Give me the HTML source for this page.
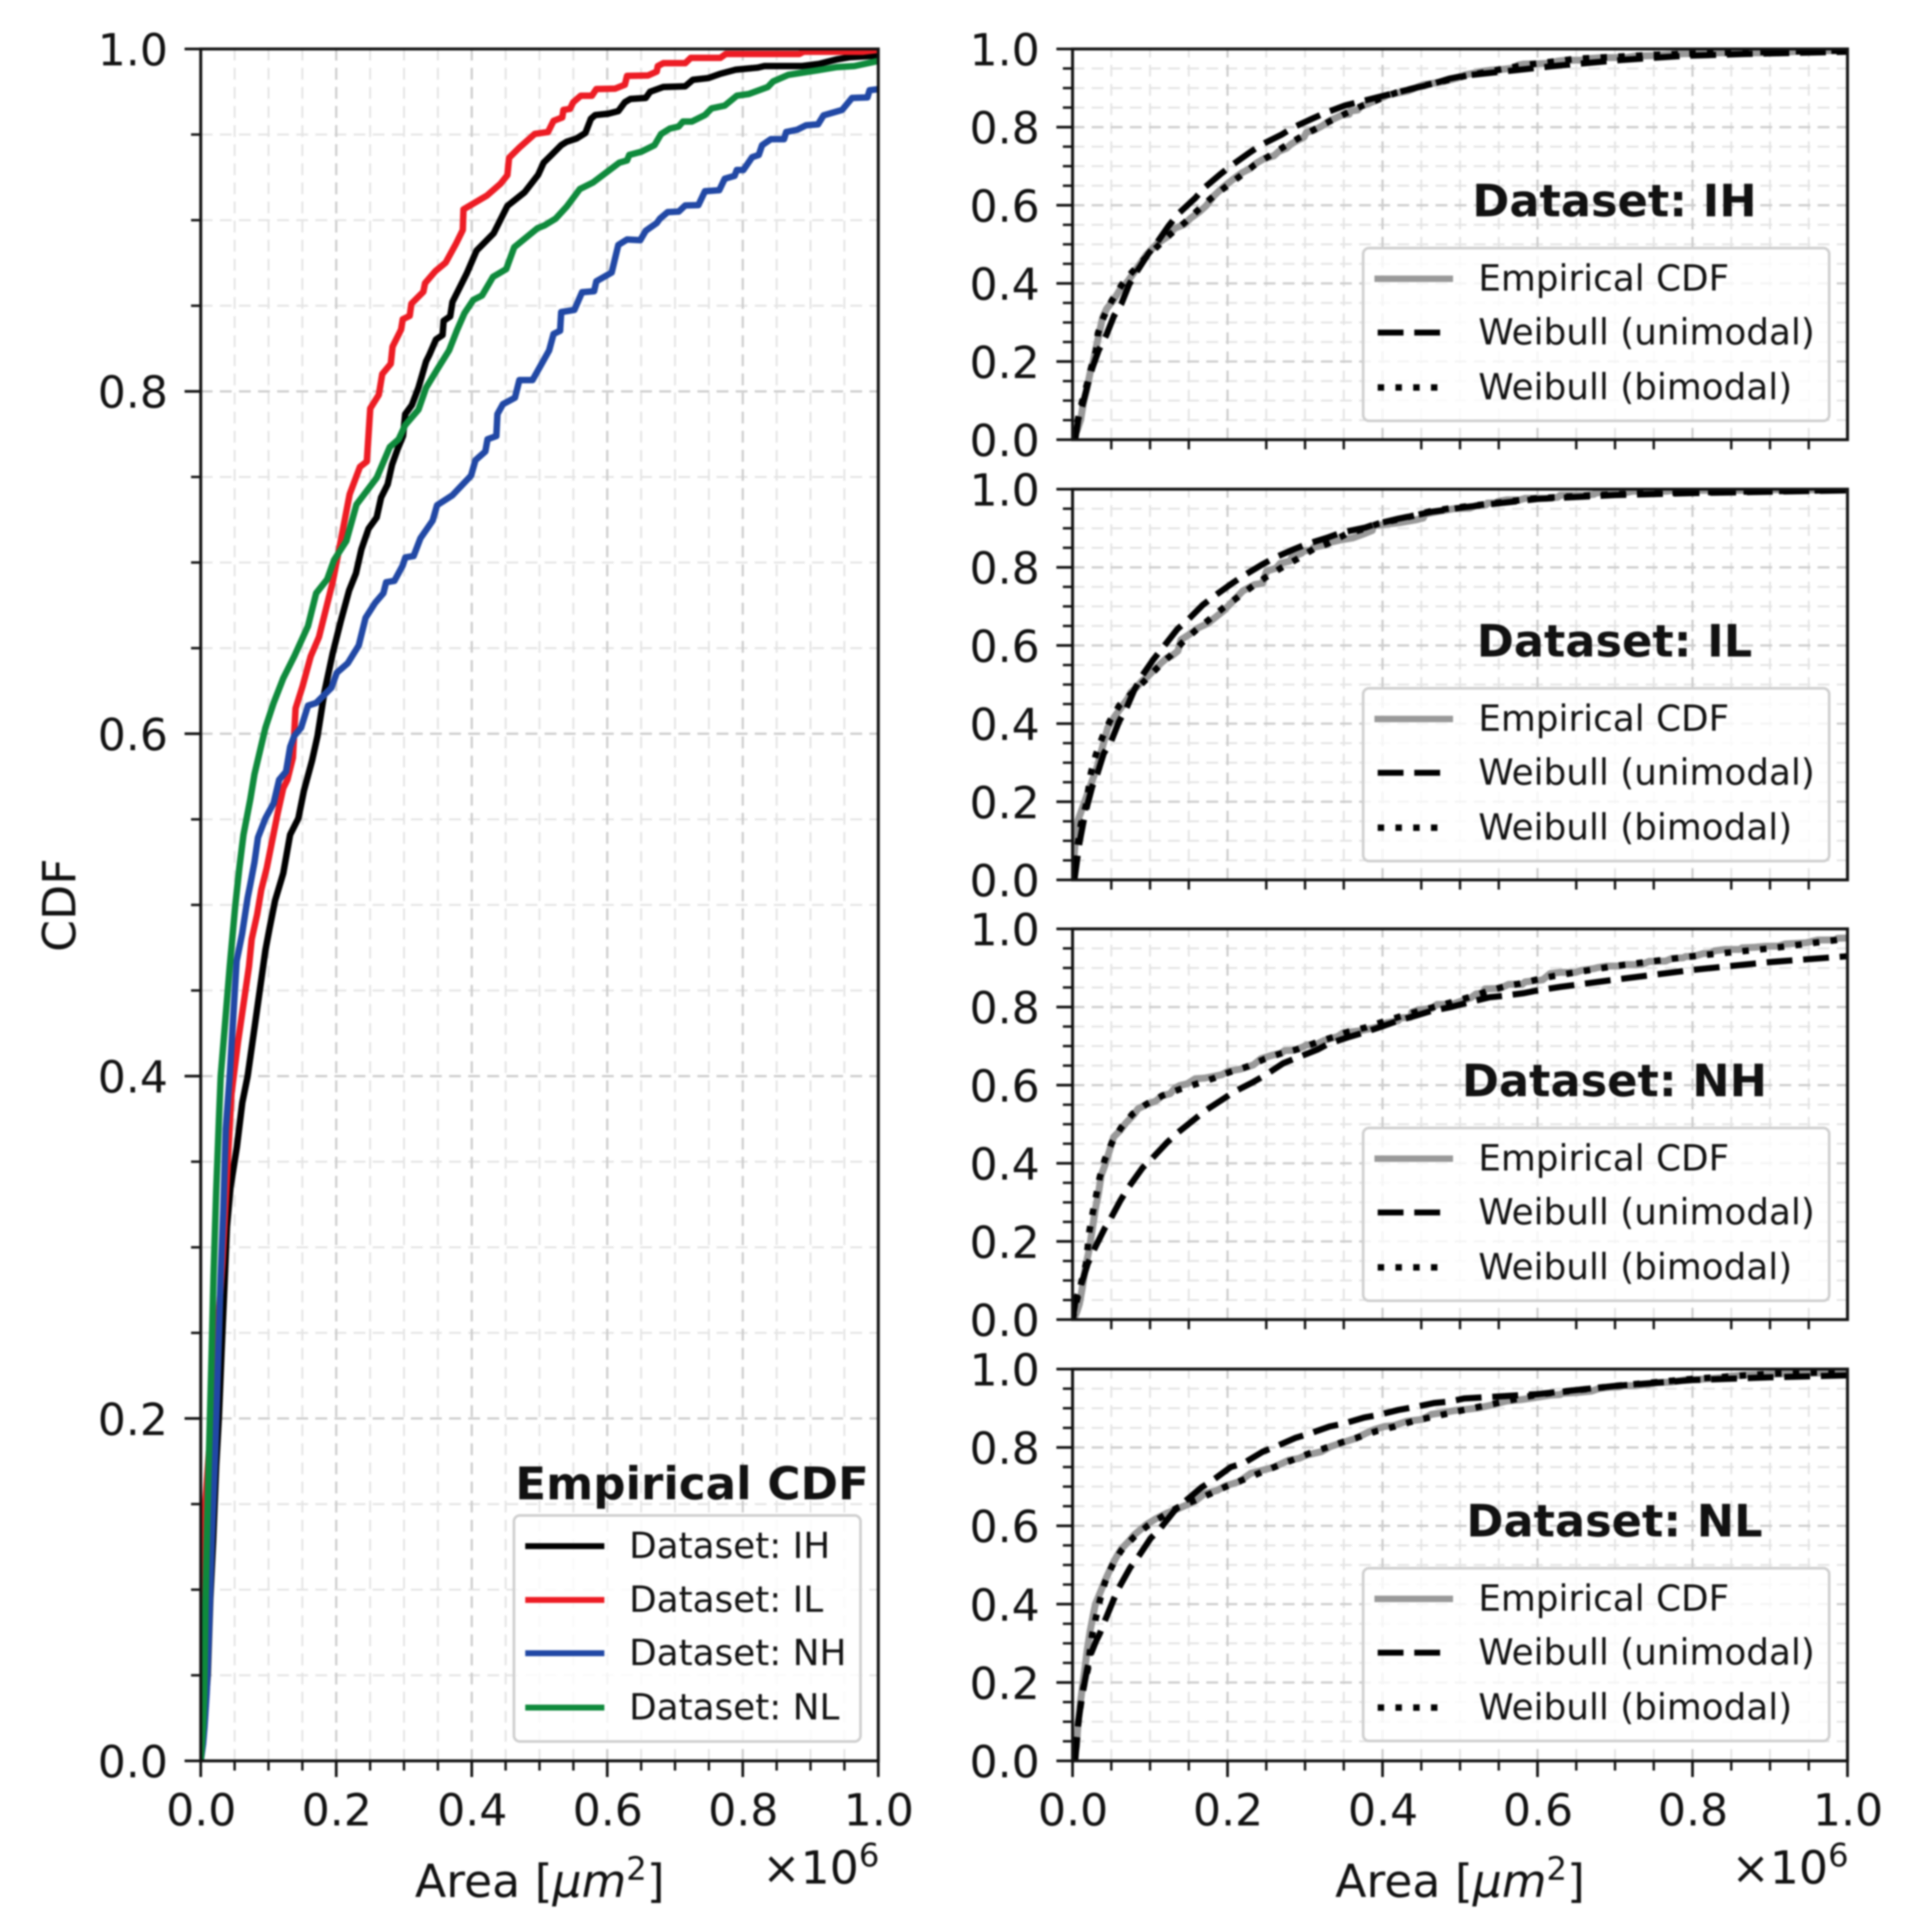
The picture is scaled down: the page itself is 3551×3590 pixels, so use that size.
<!DOCTYPE html>
<html lang="en">
<head>
<meta charset="utf-8">
<title>Empirical CDF and Weibull fits</title>
<style>
html,body{margin:0;padding:0;background:#fff;}
svg{display:block;filter:blur(1.5px);}
text{font-family:"DejaVu Sans","Liberation Sans",sans-serif;fill:#111;}
</style>
</head>
<body>
<svg id="figure" xmlns="http://www.w3.org/2000/svg" width="3551" height="3590" viewBox="0 0 3551 3590">
  <rect x="0" y="0" width="3551" height="3590" fill="#fff"/>
  <g id="plots"></g>

  <g>
    <text transform="translate(140 1682) rotate(-90)" text-anchor="middle" font-size="85">CDF</text>
    <text x="1003" y="3525" text-anchor="middle" font-size="85">Area [<tspan font-style="italic">µm</tspan><tspan dy="-32" font-size="60">2</tspan><tspan dy="32">]</tspan></text>
    <text x="1634" y="3500" text-anchor="end" font-size="85">×10<tspan dy="-32" font-size="60">6</tspan></text>
    <text x="1286" y="2786" text-anchor="middle" font-size="84" font-weight="bold">Empirical CDF</text>
  </g>
  <g>
    <rect x="955" y="2816" width="644" height="420" rx="11" fill="#fff" fill-opacity="0.8" stroke="#cfcfcf" stroke-width="5"/>
    <line x1="976" x2="1123" y1="2873" y2="2873" stroke="#000" stroke-width="11"/>
    <text x="1169" y="2895" font-size="66.5">Dataset: IH</text>
    <line x1="976" x2="1123" y1="2973" y2="2973" stroke="#ed1c24" stroke-width="11"/>
    <text x="1169" y="2995" font-size="66.5">Dataset: IL</text>
    <line x1="976" x2="1123" y1="3072" y2="3072" stroke="#2148a5" stroke-width="11"/>
    <text x="1169" y="3094" font-size="66.5">Dataset: NH</text>
    <line x1="976" x2="1123" y1="3173" y2="3173" stroke="#0f8a3c" stroke-width="11"/>
    <text x="1169" y="3195" font-size="66.5">Dataset: NL</text>
  </g>

  <g>
    <text x="3000" y="402" text-anchor="middle" font-size="83" font-weight="bold">Dataset: IH</text>
    <rect x="2533" y="461" width="866" height="321" rx="11" fill="#fff" fill-opacity="0.8" stroke="#cfcfcf" stroke-width="5"/>
    <line x1="2554" x2="2700" y1="518" y2="518" stroke="#999" stroke-width="12"/>
    <text x="2747" y="540" font-size="66.5">Empirical CDF</text>
    <line x1="2560" x2="2680" y1="618" y2="618" stroke="#000" stroke-width="11" stroke-dasharray="48 20"/>
    <text x="2747" y="640" font-size="66.5">Weibull (unimodal)</text>
    <line x1="2560" x2="2680" y1="720" y2="720" stroke="#000" stroke-width="12" stroke-dasharray="12 21"/>
    <text x="2747" y="742" font-size="66.5">Weibull (bimodal)</text>
  </g>
  <g transform="translate(0 818)">
    <text x="3000" y="402" text-anchor="middle" font-size="83" font-weight="bold">Dataset: IL</text>
    <rect x="2533" y="461" width="866" height="321" rx="11" fill="#fff" fill-opacity="0.8" stroke="#cfcfcf" stroke-width="5"/>
    <line x1="2554" x2="2700" y1="518" y2="518" stroke="#999" stroke-width="12"/>
    <text x="2747" y="540" font-size="66.5">Empirical CDF</text>
    <line x1="2560" x2="2680" y1="618" y2="618" stroke="#000" stroke-width="11" stroke-dasharray="48 20"/>
    <text x="2747" y="640" font-size="66.5">Weibull (unimodal)</text>
    <line x1="2560" x2="2680" y1="720" y2="720" stroke="#000" stroke-width="12" stroke-dasharray="12 21"/>
    <text x="2747" y="742" font-size="66.5">Weibull (bimodal)</text>
  </g>
  <g transform="translate(0 1635)">
    <text x="3000" y="402" text-anchor="middle" font-size="83" font-weight="bold">Dataset: NH</text>
    <rect x="2533" y="461" width="866" height="321" rx="11" fill="#fff" fill-opacity="0.8" stroke="#cfcfcf" stroke-width="5"/>
    <line x1="2554" x2="2700" y1="518" y2="518" stroke="#999" stroke-width="12"/>
    <text x="2747" y="540" font-size="66.5">Empirical CDF</text>
    <line x1="2560" x2="2680" y1="618" y2="618" stroke="#000" stroke-width="11" stroke-dasharray="48 20"/>
    <text x="2747" y="640" font-size="66.5">Weibull (unimodal)</text>
    <line x1="2560" x2="2680" y1="720" y2="720" stroke="#000" stroke-width="12" stroke-dasharray="12 21"/>
    <text x="2747" y="742" font-size="66.5">Weibull (bimodal)</text>
  </g>
  <g transform="translate(0 2453)">
    <text x="3000" y="402" text-anchor="middle" font-size="83" font-weight="bold">Dataset: NL</text>
    <rect x="2533" y="461" width="866" height="321" rx="11" fill="#fff" fill-opacity="0.8" stroke="#cfcfcf" stroke-width="5"/>
    <line x1="2554" x2="2700" y1="518" y2="518" stroke="#999" stroke-width="12"/>
    <text x="2747" y="540" font-size="66.5">Empirical CDF</text>
    <line x1="2560" x2="2680" y1="618" y2="618" stroke="#000" stroke-width="11" stroke-dasharray="48 20"/>
    <text x="2747" y="640" font-size="66.5">Weibull (unimodal)</text>
    <line x1="2560" x2="2680" y1="720" y2="720" stroke="#000" stroke-width="12" stroke-dasharray="12 21"/>
    <text x="2747" y="742" font-size="66.5">Weibull (bimodal)</text>
  </g>
  <g>
    <text x="2713" y="3525" text-anchor="middle" font-size="85">Area [<tspan font-style="italic">µm</tspan><tspan dy="-32" font-size="60">2</tspan><tspan dy="32">]</tspan></text>
    <text x="3435" y="3500" text-anchor="end" font-size="85">×10<tspan dy="-32" font-size="60">6</tspan></text>
  </g>
</svg>

<script>
// ---- Chart data (x in units of 1e6 µm², y = CDF) ----
const majorTicks = [0, 0.2, 0.4, 0.6, 0.8, 1.0];
const minorTicks = [0.05, 0.1, 0.15, 0.25, 0.3, 0.35, 0.45, 0.5, 0.55, 0.65, 0.7, 0.75, 0.85, 0.9, 0.95];
const tickLabels = ['0.0', '0.2', '0.4', '0.6', '0.8', '1.0'];

const empiricalAreaIH = [0,.0061,.0104,.0141,.0183,.0228,.0268,.0308,.0348,.0387,.044,.0533,.0613,.0692,.08,.0955,.1016,.1097,.1218,.1319,.1441,.1522,.1643,.1724,.1826,.1947,.2069,.219,.2291,.2372,.2477,.2597,.2662,.2759,.2824,.2905,.2986,.3018,.3115,.3213,.3326,.3375,.3472,.3569,.3585,.3682,.3715,.3844,.3925,.4071,.4323,.4526,.478,.498,.5061,.5174,.532,.5401,.5547,.5677,.5758,.5822,.6017,.6163,.626,.6341,.6568,.6632,.6827,.7151,.7264,.7491,.7669,.7896,.822,.8317,.8868,.9127,.9386,.958,.997,1];
const empiricalCdfIH = [0,.0249,.0508,.0947,.1284,.1723,.2008,.2396,.2758,.312,.3352,.3585,.3844,.3999,.43,.4736,.4864,.5025,.5185,.541,.5506,.5666,.5843,.5987,.6244,.6469,.6661,.6837,.6937,.7078,.7198,.7264,.738,.7457,.7572,.7662,.7739,.7867,.7919,.8021,.8175,.8214,.8303,.8329,.8412,.8438,.8522,.8624,.8688,.8822,.8923,.9083,.9163,.9265,.9336,.938,.9438,.9458,.9477,.9509,.9592,.9614,.9622,.9637,.9689,.9708,.9714,.975,.9778,.9782,.982,.983,.9855,.9879,.9891,.99,.99,.9913,.9939,.9952,.9961,.998];

const empiricalAreaIL = [0,.0016,.0035,.0069,.0321,.0374,.0454,.055,.0712,.0752,.0833,.0894,.0975,.1056,.1137,.1218,.1279,.136,.14,.1502,.1623,.1745,.1846,.1947,.2072,.2198,.235,.2451,.2502,.2628,.2679,.2805,.2831,.2957,.2982,.3084,.3109,.3286,.3311,.3463,.3615,.3767,.3868,.3878,.4222,.4425,.4526,.4551,.4703,.4931,.5126,.5207,.5336,.5353,.545,.5498,.561,.5774,.5839,.6114,.626,.6292,.66,.673,.6746,.6827,.7151,.7232,.7669,.775,.8836,.89,.9775,1];
const empiricalCdfIL = [0,.05,.1,.1516,.2913,.3314,.3896,.42,.464,.48,.4945,.5089,.5217,.5378,.5538,.5682,.5731,.5859,.6148,.6276,.6452,.6565,.6725,.6885,.7138,.7399,.7559,.759,.79,.798,.8101,.8161,.8261,.8361,.8421,.8441,.8512,.8582,.8632,.8702,.8752,.8862,.8943,.9063,.9143,.9213,.9263,.9364,.9424,.9504,.9515,.958,.96,.9644,.965,.9689,.9727,.9727,.9766,.9768,.9791,.9843,.9845,.9868,.99,.9917,.9917,.9948,.9948,.9971,.9971,.9984,.9984,.9995];

const empiricalAreaNH = [0,.0035,.0056,.0088,.0122,.0162,.0215,.0255,.0295,.0334,.0369,.0427,.053,.0611,.0692,.0732,.0793,.0845,.0955,.1076,.1157,.1259,.132,.138,.1481,.1583,.1704,.1927,.2008,.217,.2332,.2433,.2575,.2696,.2737,.2858,.298,.302,.3142,.3243,.3423,.3488,.3715,.399,.4055,.4201,.4233,.4363,.4379,.446,.4638,.4703,.4897,.5142,.5207,.5304,.532,.5515,.5628,.5806,.5839,.6065,.6163,.6292,.6487,.6568,.673,.6778,.6892,.7054,.7151,.7345,.7442,.7653,.7734,.788,.7912,.8009,.8139,.8236,.8285,.8414,.8609,.8641,.8803,.8933,.9111,.9192,.9467,.9613,.984,.9872,1];
const empiricalCdfNH = [0,.01,.02,.0397,.0767,.1284,.1801,.2318,.2835,.3223,.3689,.3999,.4672,.4832,.5041,.5121,.5249,.5394,.5506,.5594,.5731,.5779,.5923,.5987,.6035,.6164,.618,.6268,.6356,.6412,.6516,.6677,.6765,.6821,.6885,.6893,.6982,.703,.7038,.7142,.7245,.7335,.7393,.7508,.7598,.7649,.772,.7739,.7867,.7925,.7963,.8066,.8066,.8239,.8335,.8354,.8463,.8476,.8579,.8585,.8643,.8694,.8855,.8887,.8883,.8938,.8983,.9009,.9047,.905,.9086,.9088,.9169,.9175,.9242,.9259,.9293,.9293,.9368,.9381,.9438,.9473,.9473,.9515,.9528,.9554,.956,.9612,.9644,.9714,.9717,.9759,.9765];

const empiricalAreaNL = [0,.0035,.0051,.0069,.0096,.0122,.0162,.0189,.0228,.0268,.0295,.0428,.0509,.057,.0631,.0732,.0793,.0955,.1076,.1218,.138,.1583,.1704,.1866,.1967,.2149,.2299,.2597,.2694,.2791,.2921,.3018,.3213,.3326,.3504,.3666,.378,.3893,.4023,.4152,.4314,.4509,.4627,.4971,.5077,.5239,.5401,.5596,.579,.5984,.6179,.6292,.6325,.6503,.6697,.6794,.6924,.7054,.7118,.7248,.7442,.754,.7734,.7912,.809,.837,.8447,.8674,.9095,.9386,.9646,1];
const empiricalCdfNL = [0,.02,.0379,.0896,.1413,.1801,.2396,.2835,.3327,.374,.3999,.464,.4993,.5217,.541,.5618,.5763,.6035,.618,.6324,.6452,.6629,.6821,.6902,.7014,.7126,.7339,.7495,.7585,.7675,.772,.7803,.7893,.8021,.8137,.824,.8355,.8457,.8534,.856,.8669,.8714,.8842,.8953,.897,.9009,.9079,.9182,.922,.9278,.9336,.9349,.9381,.94,.9438,.9503,.9535,.9547,.9576,.9576,.9614,.9653,.9669,.9727,.9737,.9778,.981,.9849,.9875,.9894,.99,.993];

const unimodalAreaIH = [0,.0035,.0074,.0133,.0199,.0254,.0336,.0435,.0533,.0632,.073,.0828,.0976,.1091,.1238,.137,.1583,.1698,.1911,.2058,.2288,.2436,.2698,.2846,.3108,.3256,.3518,.3715,.3977,.4174,.4436,.46,.4863,.5053,.6282,.7079,.7876,.8673,1];
const unimodalCdfIH = [0,0,.0528,.0918,.1438,.1828,.2283,.2673,.3161,.3486,.3973,.4298,.4753,.5046,.5468,.5793,.6183,.6443,.68,.7028,.7353,.7548,.7808,.799,.823,.836,.8555,.8653,.8783,.8881,.9011,.9078,.9241,.9316,.9577,.9718,.9823,.9872,.9929];
const bimodalAreaIH = [0,.0025,.0107,.0189,.0238,.0304,.0327,.0402,.0507,.0638,.0763,.0943,.1097,.1271,.1445,.1616,.1789,.197,.2157,.2337,.2534,.2731,.2928,.3134,.3338,.3534,.3748,.3977,.4174,.4436,.4633,.5053,.5804,.65,.75,.85,1];
const bimodalCdfIH = [0,.0138,.0853,.1438,.1828,.2283,.2719,.3141,.3563,.3973,.4278,.4656,.4948,.5273,.5553,.5871,.6183,.6462,.6736,.7015,.7255,.7502,.773,.7957,.8165,.836,.8556,.8731,.8881,.9011,.9108,.9303,.958,.975,.985,.991,.996];

const unimodalAreaIL = [0,.0025,.0058,.009,.014,.0189,.0254,.032,.0402,.05,.0599,.0697,.0796,.0894,.1042,.1173,.1353,.1484,.1681,.1829,.2058,.2206,.2452,.26,.2862,.3026,.3288,.3469,.378,.3895,.4207,.4371,.4633,.483,.5053,.6,.7,.8,1];
const unimodalCdfIL = [0,.0017,.0504,.0959,.1479,.1902,.2389,.2714,.3234,.3559,.4047,.4404,.4859,.5217,.5639,.5964,.6419,.6647,.7037,.7264,.7589,.7784,.8077,.8239,.8467,.8597,.8759,.8889,.9019,.9097,.9246,.9311,.9422,.9474,.9539,.975,.985,.99,.997];
const bimodalAreaIL = [0,.0025,.0107,.0172,.0238,.0304,.0386,.0484,.0605,.0927,.1097,.1261,.1419,.1589,.1773,.195,.214,.2321,.2508,.2705,.2911,.3108,.3321,.3534,.3731,.3944,.4174,.442,.4633,.4863,.5053,.6,.7,.8,1];
const bimodalCdfIL = [0,.04,.1414,.1902,.2747,.3221,.3657,.4079,.4469,.5087,.5431,.5736,.6081,.6386,.6679,.6972,.7245,.7511,.7764,.7999,.8226,.8466,.8629,.8856,.8967,.9117,.9214,.9331,.9442,.9507,.9552,.977,.987,.992,.998];

const unimodalAreaNH = [0,.0041,.0107,.0196,.0284,.0417,.0484,.0617,.0727,.0905,.1015,.1215,.1348,.1547,.1702,.1946,.2078,.2322,.2477,.2721,.2898,.3164,.3297,.3563,.374,.4006,.4205,.4449,.4626,.4892,.5091,.5379,.5556,.5822,.5999,.63,.7,.8,.9,1];
const unimodalCdfNH = [0,.0516,.0867,.143,.1817,.2344,.2555,.3047,.3398,.389,.4101,.4523,.4769,.5085,.5332,.5648,.5824,.607,.6245,.6562,.6702,.6913,.7054,.723,.7335,.7511,.7651,.7792,.7897,.8003,.8108,.8249,.8284,.8354,.8425,.8516,.87,.895,.915,.93];
const bimodalAreaNH = [0,.0041,.0107,.0173,.0218,.0262,.0306,.0351,.0417,.0506,.0625,.0772,.0958,.1161,.1383,.1604,.1821,.2034,.2256,.2477,.2685,.292,.3142,.3363,.3563,.3784,.3997,.4227,.4449,.467,.4892,.5113,.5335,.5556,.5778,.5999,.622,.7,.8,.9,1];
const bimodalCdfNH = [0,.0375,.0903,.143,.2273,.2752,.3187,.3644,.4101,.4523,.491,.5261,.5521,.5732,.5894,.6035,.6175,.6337,.6477,.6667,.6808,.6927,.7089,.723,.737,.7476,.7616,.7757,.7883,.8003,.8122,.8249,.839,.8516,.8601,.8706,.8797,.905,.93,.95,.975];

const unimodalAreaNL = [0,.0035,.0074,.0107,.014,.0189,.0238,.0304,.0353,.0418,.0533,.0599,.0746,.0845,.1009,.1124,.132,.1452,.1665,.1796,.2042,.2206,.2452,.2616,.2878,.3042,.3321,.3485,.3764,.3944,.4207,.4387,.4666,.4863,.5053,.6,.7,.8,.9,1];
const unimodalCdfNL = [0,.0015,.0987,.1441,.183,.2348,.2737,.306,.3255,.3579,.413,.4422,.494,.5199,.5685,.5912,.6398,.6625,.6981,.7143,.75,.7597,.7888,.8018,.8245,.8342,.8536,.8601,.8763,.8828,.8958,.9022,.9133,.9171,.9249,.936,.957,.972,.979,.984];
const bimodalAreaNL = [0,.0035,.0107,.014,.0199,.0222,.0254,.0304,.0353,.0418,.051,.0625,.0789,.0966,.1156,.1353,.1573,.178,.1996,.2206,.242,.2632,.2852,.3065,.3288,.3502,.3715,.3938,.4164,.4387,.4607,.483,.5053,.6,.7,.8,.9,1];
const bimodalCdfNL = [0,.0404,.1441,.1862,.2348,.2769,.3223,.3676,.4098,.4551,.4972,.5361,.5705,.5996,.6236,.6463,.6644,.6819,.7014,.7176,.7351,.752,.7688,.7856,.8005,.8148,.8277,.8426,.8536,.8666,.8763,.886,.8958,.935,.957,.975,.988,.993];

// ---- Drawing helpers ----
const NS = 'http://www.w3.org/2000/svg';
const plots = document.getElementById('plots');

function mk(tag, name, parent, attrs) {
  const node = document.createElementNS(NS, tag);
  
  
  for (const key in attrs) node.setAttribute(key, attrs[key]);
  parent.appendChild(node);
  return node;
}

function xScale(p, v) { return p.left + v * (p.right - p.left); }
function yScale(p, v) { return p.bottom - v * (p.bottom - p.top); }

function linePath(p, xs, ys) {
  let d = '';
  for (let i = 0; i < xs.length; i++) {
    d += (i ? 'L' : 'M') + xScale(p, xs[i]).toFixed(2) + ' ' + yScale(p, ys[i]).toFixed(2);
  }
  return d;
}

function drawGrid(p, g) {
  const dash = '22 13.5';
  minorTicks.forEach(function (v) {
    mk('line', p.id + '-x-minor-grid', g, {x1: xScale(p, v), x2: xScale(p, v), y1: p.bottom, y2: p.top, stroke: '#e4e4e4', 'stroke-width': 3.5, 'stroke-dasharray': dash});
    mk('line', p.id + '-y-minor-grid', g, {x1: p.left, x2: p.right, y1: yScale(p, v), y2: yScale(p, v), stroke: '#e4e4e4', 'stroke-width': 3.5, 'stroke-dasharray': dash});
  });
  majorTicks.forEach(function (v) {
    mk('line', p.id + '-x-major-grid', g, {x1: xScale(p, v), x2: xScale(p, v), y1: p.bottom, y2: p.top, stroke: '#cccccc', 'stroke-width': 4, 'stroke-dasharray': dash});
    mk('line', p.id + '-y-major-grid', g, {x1: p.left, x2: p.right, y1: yScale(p, v), y2: yScale(p, v), stroke: '#cccccc', 'stroke-width': 4, 'stroke-dasharray': dash});
  });
}

function drawAxes(p, g, showXLabels) {
  mk('rect', p.id + '-frame', g, {x: p.left, y: p.top, width: p.right - p.left, height: p.bottom - p.top, fill: 'none', stroke: '#111', 'stroke-width': 5.5});
  minorTicks.forEach(function (v) {
    mk('line', p.id + '-x-minor-tick', g, {x1: xScale(p, v), x2: xScale(p, v), y1: p.bottom, y2: p.bottom + 18, stroke: '#111', 'stroke-width': 4.5});
    mk('line', p.id + '-y-minor-tick', g, {x1: p.left - 18, x2: p.left, y1: yScale(p, v), y2: yScale(p, v), stroke: '#111', 'stroke-width': 4.5});
  });
  majorTicks.forEach(function (v, i) {
    mk('line', p.id + '-y-major-tick', g, {x1: p.left - 30, x2: p.left, y1: yScale(p, v), y2: yScale(p, v), stroke: '#111', 'stroke-width': 5});
    const yLabel = mk('text', p.id + '-y-tick-label', g, {x: p.left - 61, y: yScale(p, v) + 30.5, 'text-anchor': 'end', 'font-size': 82});
    yLabel.textContent = tickLabels[i];
    if (showXLabels) {
      mk('line', p.id + '-x-major-tick', g, {x1: xScale(p, v), x2: xScale(p, v), y1: p.bottom, y2: p.bottom + 30, stroke: '#111', 'stroke-width': 5});
      const xLabel = mk('text', p.id + '-x-tick-label', g, {x: xScale(p, v) + 1, y: 3392, 'text-anchor': 'middle', 'font-size': 82});
      xLabel.textContent = tickLabels[i];
    }
  });
}

function clipFor(p) {
  const clip = mk('clipPath', p.id + '-clip', plots, {id: p.id + '-clip'});
  mk('rect', p.id + '-clip-rect', clip, {x: p.left, y: p.top, width: p.right - p.left, height: p.bottom - p.top});
  return 'url(#' + p.id + '-clip)';
}

function drawLine(p, g, clip, name, xs, ys, color, width, dash) {
  const attrs = {d: linePath(p, xs, ys), fill: 'none', stroke: color, 'stroke-width': width, 'stroke-linejoin': 'round', 'clip-path': clip};
  if (dash) attrs['stroke-dasharray'] = dash;
  return mk('path', name, g, attrs);
}

// ---- Left panel ----
const leftPanel = {id: 'left-panel', left: 373, right: 1632, top: 91, bottom: 3272};
(function () {
  const g = mk('g', 'left-panel', plots, {});
  drawGrid(leftPanel, g);
  const clip = clipFor(leftPanel);
  drawLine(leftPanel, g, clip, 'series-ih', empiricalAreaIH, empiricalCdfIH, '#000', 12);
  drawLine(leftPanel, g, clip, 'series-il', empiricalAreaIL, empiricalCdfIL, '#ed1c24', 12);
  drawLine(leftPanel, g, clip, 'series-nh', empiricalAreaNH, empiricalCdfNH, '#2148a5', 12);
  drawLine(leftPanel, g, clip, 'series-nl', empiricalAreaNL, empiricalCdfNL, '#0f8a3c', 12);
  drawAxes(leftPanel, g, true);
})();

// ---- Right panels ----
function drawRight(p, e, u, b, showXLabels) {
  const g = mk('g', p.id, plots, {});
  drawGrid(p, g);
  const clip = clipFor(p);
  drawLine(p, g, clip, p.id + '-empirical', e[0], e[1], '#999', 13);
  drawLine(p, g, clip, p.id + '-unimodal', u[0], u[1], '#000', 11.5, '48 20');
  drawLine(p, g, clip, p.id + '-bimodal', b[0], b[1], '#000', 12, '12 21');
  drawAxes(p, g, showXLabels);
}

drawRight({id: 'panel-ih', left: 1993, right: 3433, top: 91, bottom: 817},
  [empiricalAreaIH, empiricalCdfIH], [unimodalAreaIH, unimodalCdfIH], [bimodalAreaIH, bimodalCdfIH], false);
drawRight({id: 'panel-il', left: 1993, right: 3433, top: 909, bottom: 1635},
  [empiricalAreaIL, empiricalCdfIL], [unimodalAreaIL, unimodalCdfIL], [bimodalAreaIL, bimodalCdfIL], false);
drawRight({id: 'panel-nh', left: 1993, right: 3433, top: 1726, bottom: 2452},
  [empiricalAreaNH, empiricalCdfNH], [unimodalAreaNH, unimodalCdfNH], [bimodalAreaNH, bimodalCdfNH], false);
drawRight({id: 'panel-nl', left: 1993, right: 3433, top: 2544, bottom: 3272},
  [empiricalAreaNL, empiricalCdfNL], [unimodalAreaNL, unimodalCdfNL], [bimodalAreaNL, bimodalCdfNL], true);
</script>
</body>
</html>
